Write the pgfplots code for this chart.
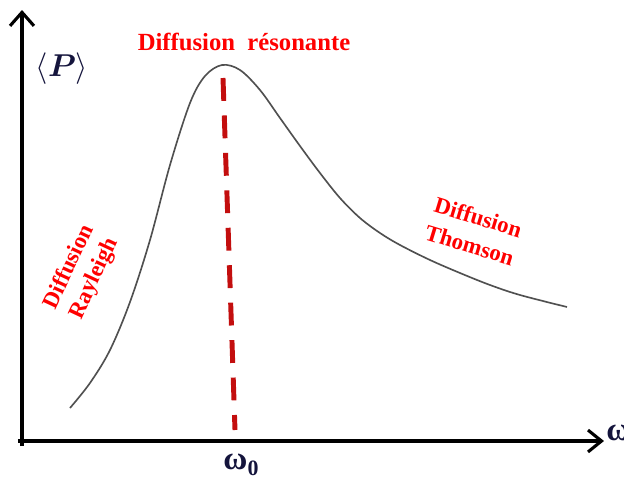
\documentclass[border=0pt]{standalone}
\usepackage{pgfplots}
\pgfplotsset{compat=1.18}
\usepackage{amsmath}
\usepackage{fontspec}
\setmainfont{Liberation Serif}
\usetikzlibrary{arrows.meta}
\definecolor{lblred}{RGB}{255,0,0}
\definecolor{dashred}{RGB}{195,14,14}
\definecolor{curvegray}{RGB}{80,80,80}
\definecolor{symcol}{RGB}{20,20,60}
\begin{document}
\begin{tikzpicture}
\begin{axis}[
  scale only axis, width=12cm, height=9.1731cm,
  xmin=0, xmax=624, ymin=0, ymax=477, y dir=reverse,
  hide axis, clip=false]
% bounding box
\path (axis cs:0,0) (axis cs:624,477);
% axes
\draw[line width=1.7pt, -{Straight Barb[length=2.6mm,width=4.6mm,line width=1.7pt]}] (axis cs:22,446) -- (axis cs:22,10);
\draw[line width=1.7pt, -{Straight Barb[length=2.6mm,width=4.2mm,line width=1.7pt]}] (axis cs:18,441) -- (axis cs:604,441);
% curve
\addplot[curvegray, line width=0.9pt, smooth, tension=0.55] coordinates {
 (70,408) (90,383) (110,350) (130,302) (150,240) (170,165) (190,103) (205,76) (222,65) (240,70) (260,90) (280,118) (300,146) (320,173) (340,198) (360,218) (380,233) (400,245) (430,260) (460,273) (490,285) (520,295) (567,307)};
% dashed line
\addplot[dashred, line width=2.7pt, dash pattern=on 12.5pt off 8pt] coordinates {(223,78) (235,430)};
% labels
\node[lblred, font=\bfseries\fontsize{13.5}{15}\selectfont] at (axis cs:244,42) {Diffusion~~résonante};
\node[font=\bfseries\fontsize{16}{18}\selectfont, text=symcol] at (axis cs:62,69) {$\langle\boldsymbol{P}\rangle$};
\node[lblred, font=\bfseries\fontsize{12.5}{15}\selectfont, align=center, rotate=65, inner sep=0pt] at (axis cs:82,273) {Diffusion\\Rayleigh};
\node[lblred, font=\bfseries\fontsize{12.5}{16}\selectfont, align=center, rotate=-17, inner sep=0pt] at (axis cs:474,231) {Diffusion\\Thomson};
\node[font=\bfseries\fontsize{18}{20}\selectfont, text=symcol] at (axis cs:241,465) {ω\raisebox{-0.4ex}{\fontsize{12}{14}\selectfont 0}};
\node[overlay, font=\bfseries\fontsize{18}{20}\selectfont, text=symcol, anchor=west, inner sep=0pt] at (axis cs:606,433) {ω};
\end{axis}
\end{tikzpicture}
\end{document}
